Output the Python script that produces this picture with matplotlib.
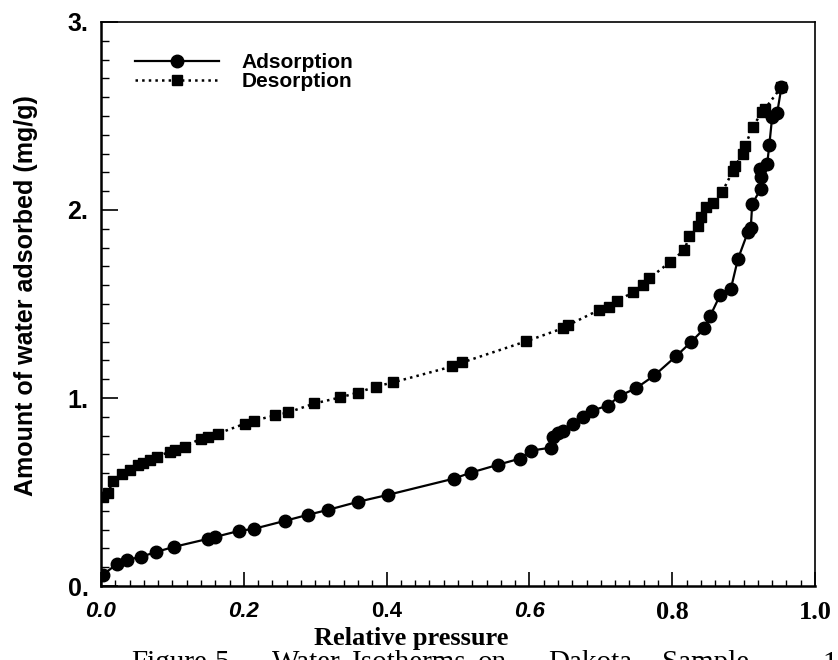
import matplotlib.pyplot as plt
from matplotlib.ticker import MultipleLocator

# Water isotherm: adsorption / desorption branches
ads_p = [0.003, 0.022, 0.036, 0.056, 0.077, 0.102, 0.150, 0.160, 0.193, 0.214,
         0.258, 0.290, 0.318, 0.360, 0.402, 0.494, 0.518, 0.556, 0.587, 0.602,
         0.630, 0.633, 0.640, 0.647, 0.661, 0.675, 0.688, 0.710, 0.727, 0.749,
         0.775, 0.805, 0.826, 0.845, 0.853, 0.867, 0.882, 0.892, 0.906, 0.910,
         0.912, 0.924, 0.924, 0.923, 0.933, 0.936, 0.940, 0.947, 0.953]
ads_w = [0.060, 0.117, 0.139, 0.155, 0.181, 0.208, 0.251, 0.261, 0.293, 0.304,
         0.347, 0.379, 0.405, 0.448, 0.485, 0.571, 0.603, 0.645, 0.678, 0.720,
         0.736, 0.795, 0.816, 0.827, 0.864, 0.901, 0.933, 0.960, 1.013, 1.051,
         1.120, 1.221, 1.296, 1.370, 1.435, 1.547, 1.579, 1.739, 1.883, 1.904,
         2.032, 2.112, 2.176, 2.219, 2.245, 2.347, 2.496, 2.517, 2.655]

des_p = [0.953, 0.930, 0.926, 0.913, 0.902, 0.899, 0.888, 0.885, 0.870, 0.857,
         0.847, 0.840, 0.836, 0.824, 0.817, 0.797, 0.768, 0.759, 0.745, 0.723,
         0.711, 0.697, 0.654, 0.647, 0.595, 0.506, 0.492, 0.409, 0.385, 0.360,
         0.335, 0.299, 0.262, 0.244, 0.214, 0.202, 0.164, 0.150, 0.140, 0.117,
         0.104, 0.097, 0.078, 0.069, 0.059, 0.052, 0.040, 0.030, 0.017, 0.010,
         0.003]
des_w = [2.655, 2.539, 2.523, 2.443, 2.341, 2.299, 2.235, 2.208, 2.096, 2.037,
         2.016, 1.963, 1.915, 1.861, 1.787, 1.723, 1.637, 1.600, 1.563, 1.515,
         1.483, 1.467, 1.387, 1.371, 1.301, 1.189, 1.168, 1.083, 1.061, 1.029,
         1.003, 0.971, 0.923, 0.907, 0.880, 0.864, 0.811, 0.795, 0.784, 0.741,
         0.725, 0.715, 0.688, 0.672, 0.656, 0.645, 0.619, 0.597, 0.560, 0.496,
         0.475]

y_ticks = [0, 1, 2, 3]
y_labels = ["0.", "1.", "2.", "3."]
x_ticks = [0.0, 0.2, 0.4, 0.6, 0.8, 1.0]
x_labels = ["0.0", "0.2", "0.4", "0.6", "0.8", "1.0"]
# the scanned axis mixes fonts: (family, style, size) for each x tick label
x_label_fonts = [("Liberation Sans", "italic", 16), ("Liberation Sans", "italic", 16),
                 ("Liberation Sans", "normal", 16), ("Liberation Sans", "italic", 16),
                 ("Liberation Serif", "normal", 19), ("Liberation Serif", "normal", 19)]

caption_words = ["Figure", "5.", "Water", "Isotherms", "on", "Dakota", "Sample", "1("]
caption_x = [131, 214, 272, 352, 478, 548, 662, 822]   # left edge of each word, px

sans = "Liberation Sans"
serif = "Liberation Serif"

fig = plt.figure(figsize=(8.38, 6.6), dpi=100)
ax = fig.add_axes([0.1205, 0.1121, 0.8521, 0.8546])

ax.plot(ads_p, ads_w, "-o", color="black", lw=1.6, ms=9, label="Adsorption")
ax.plot(des_p, des_w, ":s", color="black", lw=1.8, ms=7.5, label="Desorption")

ax.set_xlim(0, 1.0)
ax.set_ylim(0, 3.0)

ax.set_yticks(y_ticks)
ax.set_yticklabels(y_labels, fontfamily=sans, fontweight="bold", fontsize=18)
ax.yaxis.set_minor_locator(MultipleLocator(0.1))
ax.set_xticks(x_ticks)
ax.set_xticklabels(x_labels, fontweight="bold")
for lab, (fam, sty, size) in zip(ax.get_xticklabels(), x_label_fonts):
    lab.set_fontfamily(fam)
    lab.set_fontstyle(sty)
    lab.set_fontsize(size)
ax.xaxis.set_minor_locator(MultipleLocator(0.02))

ax.tick_params(axis="y", which="major", direction="in", length=12, width=1.2, pad=9)
ax.tick_params(axis="y", which="minor", direction="in", length=6, width=1)
ax.tick_params(axis="x", which="major", direction="in", length=10, width=1.2, pad=11)
ax.tick_params(axis="x", which="minor", direction="in", length=4.5, width=1)

for side in ["left", "bottom"]:
    ax.spines[side].set_linewidth(1.8)
for side in ["top", "right"]:
    ax.spines[side].set_linewidth(1.2)

ax.set_ylabel("Amount of water adsorbed (mg/g)", fontfamily=sans,
              fontweight="bold", fontsize=18)
ax.yaxis.set_label_coords(-0.088, 0.515)
ax.set_xlabel("Relative pressure", fontfamily=serif, fontweight="bold",
              fontsize=19)
ax.xaxis.set_label_coords(0.435, -0.072)

ax.legend(loc="upper left", bbox_to_anchor=(0.048, 0.945), frameon=False,
          numpoints=1, handlelength=4.0, handletextpad=1.1, labelspacing=0.0,
          borderpad=0, borderaxespad=0,
          prop={"family": sans, "weight": "bold", "size": 15})

# caption line, partly cut off at the bottom edge
for word, px in zip(caption_words, caption_x):
    fig.text(px / 838, 1 - 650 / 660, word, fontfamily=serif, fontsize=21,
             va="top", ha="left")

fig.savefig("out.png", dpi=100)
